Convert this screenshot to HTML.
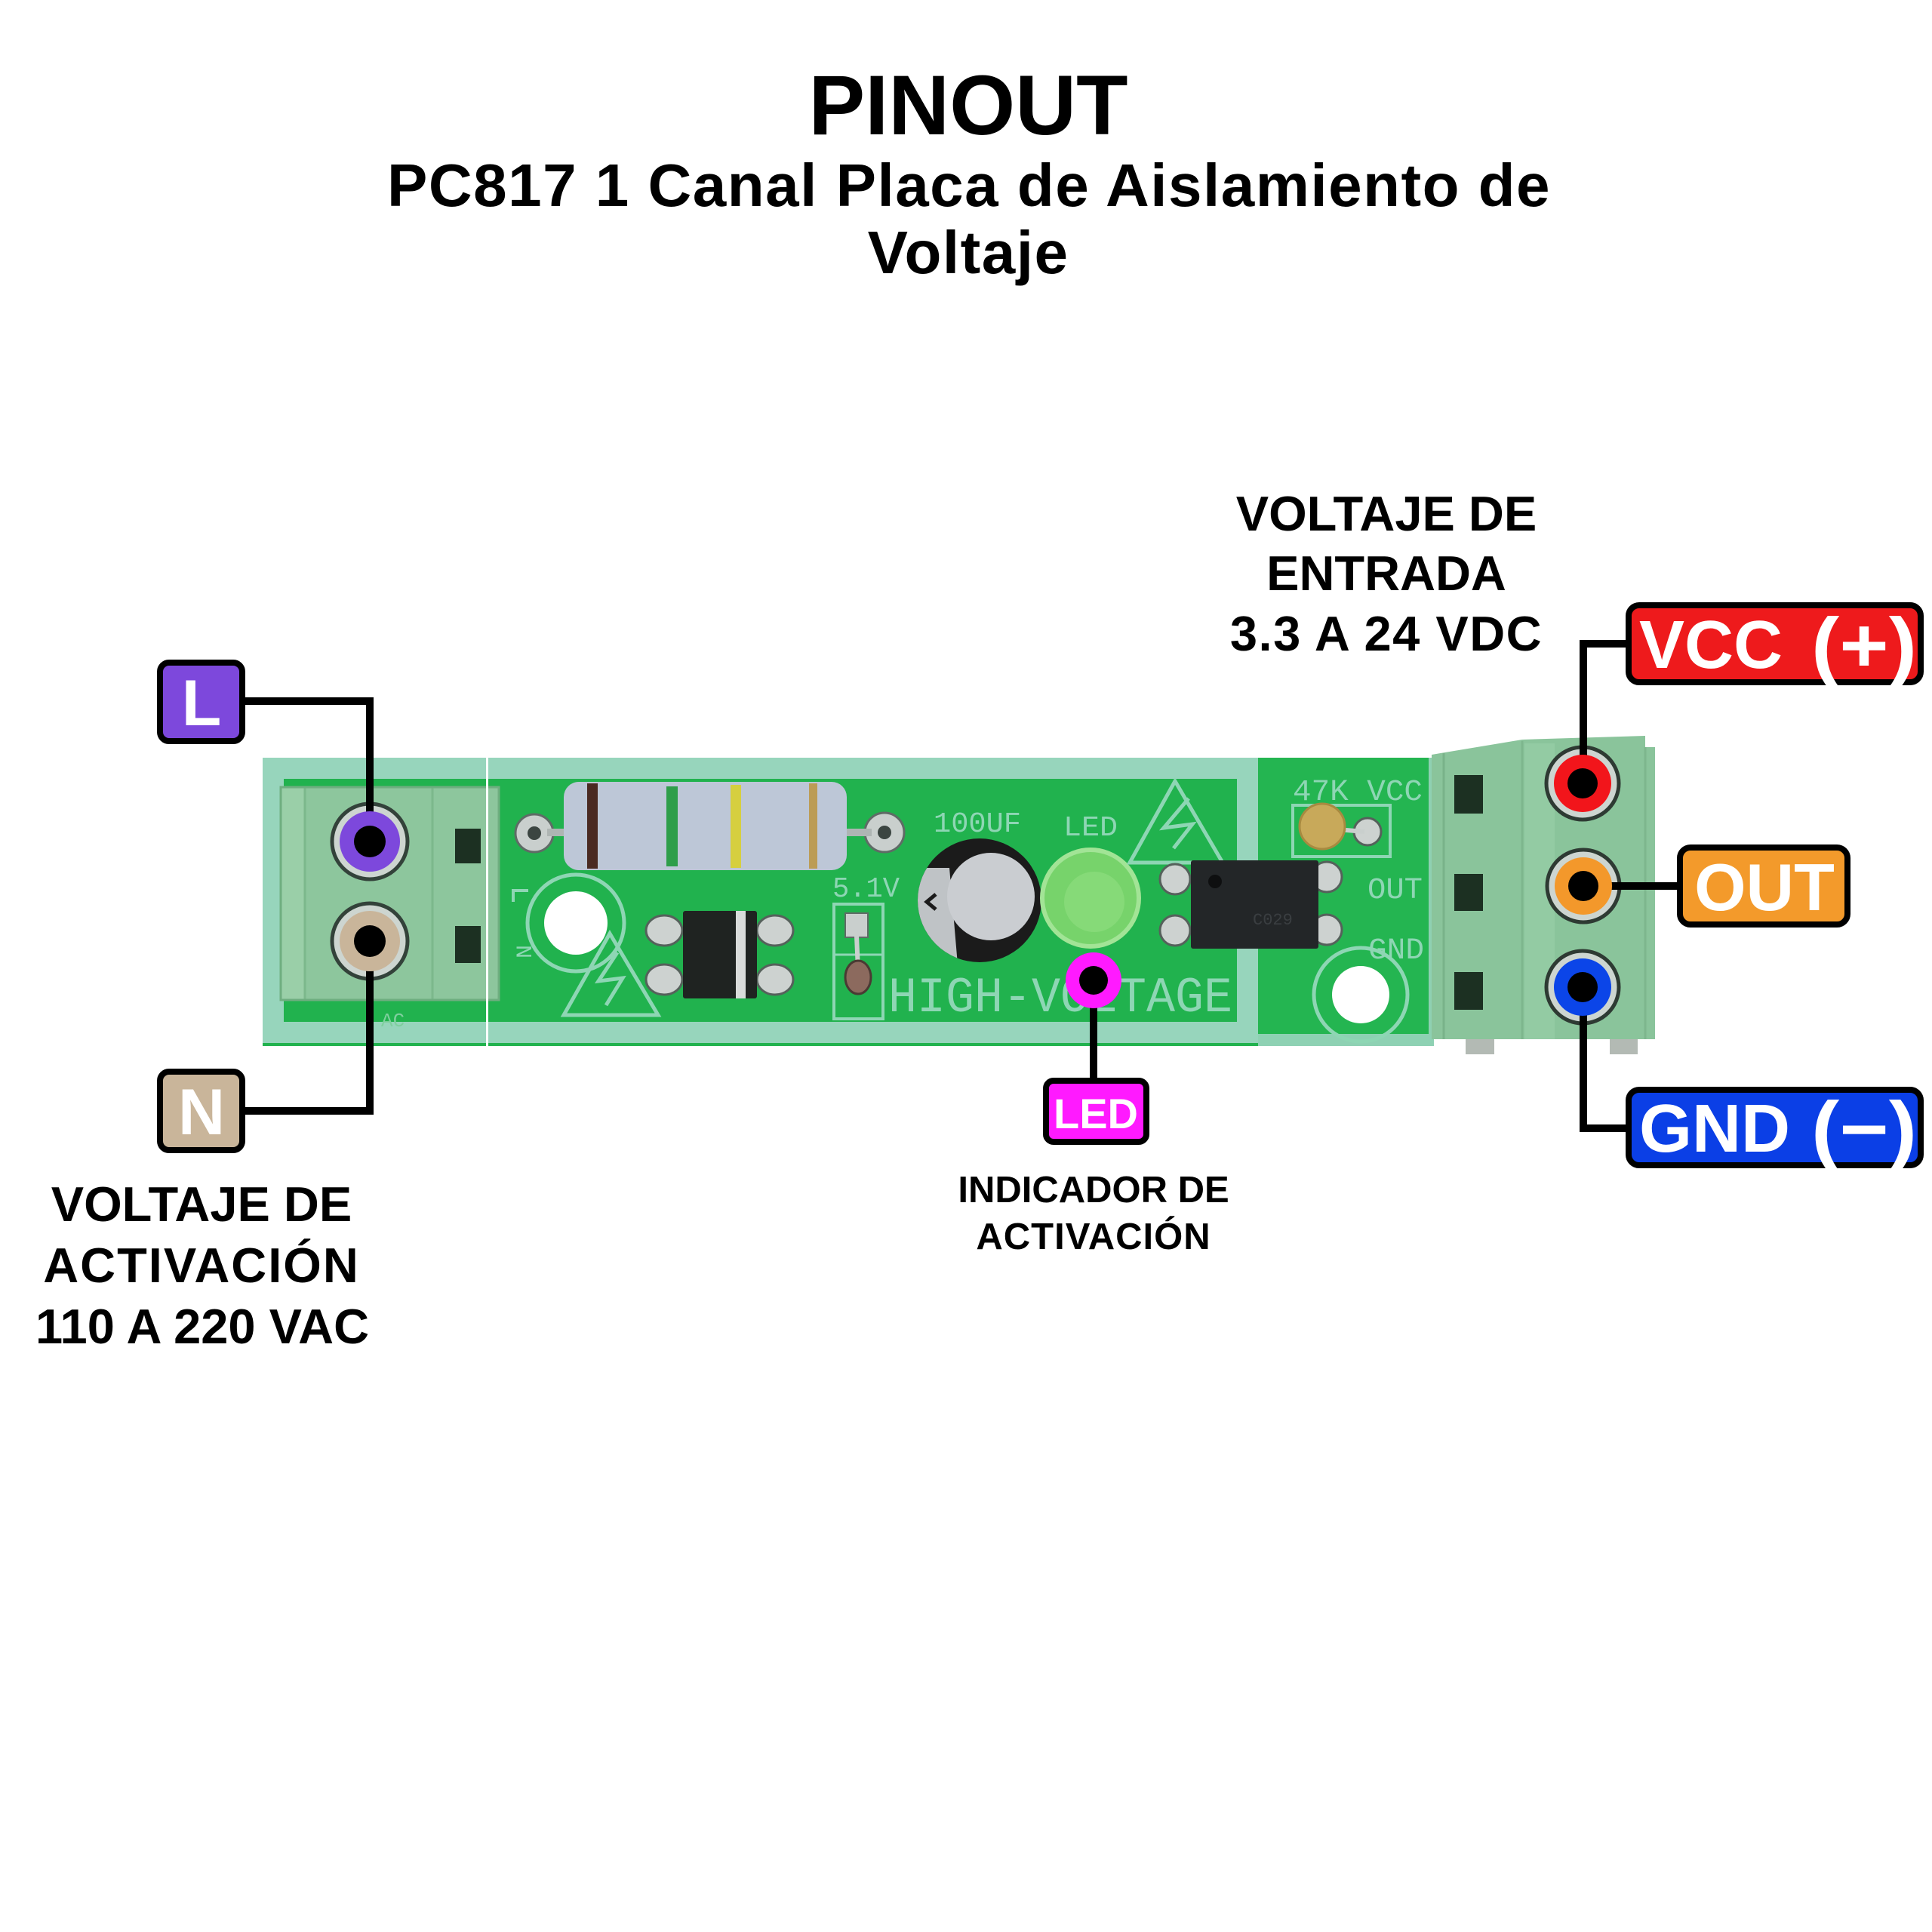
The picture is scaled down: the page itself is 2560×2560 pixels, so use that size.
<!DOCTYPE html>
<html>
<head>
<meta charset="utf-8">
<style>
  html,body{margin:0;padding:0;background:#fff;}
  svg{display:block;}
  .b{font-family:"Liberation Sans",Arial,sans-serif;font-weight:bold;}
  .m{font-family:"Liberation Mono",monospace;}
</style>
</head>
<body>
<svg width="2560" height="2560" viewBox="0 0 2560 2560" xmlns="http://www.w3.org/2000/svg">
  <rect width="2560" height="2560" fill="#ffffff"/>

  <!-- Titles -->
  <text class="b" x="1283" y="178" font-size="112" text-anchor="middle" fill="#000">PINOUT</text>
  <text class="b" x="1284" y="273" font-size="80" text-anchor="middle" letter-spacing="1.5" fill="#000">PC817 1 Canal Placa de Aislamiento de</text>
  <text class="b" x="1283" y="362" font-size="80" text-anchor="middle" letter-spacing="1.5" fill="#000">Voltaje</text>

  <!-- ===== PCB ===== -->
  <!-- board -->
  <rect x="348" y="1004" width="1552" height="382" fill="#21B24E"/>
  <!-- pale silkscreen frame -->
  <rect x="362" y="1018" width="1291" height="350" fill="none" stroke="#97D5BC" stroke-width="28"/>
  <rect x="1667" y="1004" width="233" height="382" fill="#24B551"/>
  <rect x="1893" y="1004" width="7" height="382" fill="#8FD0B2"/>
  <rect x="1667" y="1370" width="233" height="16" fill="#8ED1B3"/>

  <!-- left terminal block -->
  <rect x="372" y="1043" width="289" height="282" fill="#8DC69D"/>
  <rect x="372" y="1043" width="32" height="282" fill="#9ACFA8"/>
  <line x1="404" y1="1043" x2="404" y2="1325" stroke="#7CB88C" stroke-width="3"/>
  <line x1="573" y1="1043" x2="573" y2="1325" stroke="#7CB88C" stroke-width="3"/>
  <rect x="372" y="1043" width="289" height="282" fill="none" stroke="#6FAE80" stroke-width="3"/>
  <rect x="603" y="1098" width="34" height="46" fill="#1C3022"/>
  <rect x="603" y="1227" width="34" height="49" fill="#1C3022"/>
  <text class="m" x="505" y="1360" font-size="26" fill="#7FCF9E">AC</text>

  <!-- thin white line -->
  <rect x="644" y="1000" width="3" height="392" fill="#ffffff"/>

  <!-- resistor pads & body -->
  <circle cx="708" cy="1104" r="25" fill="#C9CFCD" stroke="#5F6B66" stroke-width="3"/>
  <circle cx="708" cy="1104" r="9" fill="#3B4541"/>
  <circle cx="1172" cy="1103" r="26" fill="#C9CFCD" stroke="#5F6B66" stroke-width="3"/>
  <circle cx="1172" cy="1103" r="9" fill="#3B4541"/>
  <rect x="725" y="1098" width="30" height="10" fill="#AEB5B3"/>
  <rect x="1115" y="1098" width="40" height="10" fill="#AEB5B3"/>
  <rect x="747" y="1036" width="375" height="117" rx="20" fill="#BDC7D7"/>
  <rect x="778" y="1038" width="14" height="113" fill="#4A2A22"/>
  <rect x="883" y="1042" width="15" height="106" fill="#2E9E4A"/>
  <rect x="968" y="1040" width="14" height="110" fill="#D6CF3F"/>
  <rect x="1072" y="1038" width="11" height="113" fill="#BC9C55"/>

  <!-- left mounting hole -->
  <circle cx="763" cy="1223" r="64" fill="none" stroke="#8ED6B4" stroke-width="5"/>
  <circle cx="763" cy="1223" r="42" fill="#ffffff"/>
  <!-- silkscreen L / N -->
  <path d="M680 1195 V1180 H700" fill="none" stroke="#8ED6B4" stroke-width="4"/>
  <text class="m" x="690" y="1284" font-size="30" fill="#8ED6B4" transform="rotate(-90 690 1270)">N</text>
  <!-- left warning triangle -->
  <polygon points="808,1237 747,1345 872,1345" fill="none" stroke="#8ED6B4" stroke-width="5"/>
  <path d="M818 1262 L793 1300 L825 1296 L803 1332" fill="none" stroke="#8ED6B4" stroke-width="5"/>

  <!-- bridge rectifier -->
  <ellipse cx="880" cy="1233" rx="24" ry="20" fill="#CDD2D0" stroke="#55615B" stroke-width="3"/>
  <ellipse cx="880" cy="1298" rx="24" ry="20" fill="#CDD2D0" stroke="#55615B" stroke-width="3"/>
  <ellipse cx="1027" cy="1233" rx="24" ry="20" fill="#CDD2D0" stroke="#55615B" stroke-width="3"/>
  <ellipse cx="1027" cy="1298" rx="24" ry="20" fill="#CDD2D0" stroke="#55615B" stroke-width="3"/>
  <rect x="905" y="1207" width="98" height="116" rx="3" fill="#1F2321"/>
  <rect x="975" y="1207" width="13" height="116" fill="#D9DCDB"/>

  <!-- zener -->
  <text class="m" x="1103" y="1188" font-size="38" fill="#8ED6B4" textLength="89" lengthAdjust="spacingAndGlyphs">5.1V</text>
  <rect x="1105" y="1198" width="65" height="152" fill="none" stroke="#8ED6B4" stroke-width="4"/>
  <line x1="1107" y1="1265" x2="1168" y2="1265" stroke="#8ED6B4" stroke-width="3"/>
  <rect x="1120" y="1210" width="30" height="32" fill="#C9CFCD" stroke="#5F6B66" stroke-width="2"/>
  <line x1="1135" y1="1240" x2="1137" y2="1285" stroke="#C9CFCD" stroke-width="6"/>
  <ellipse cx="1137" cy="1295" rx="17" ry="22" fill="#8C6A5E" stroke="#4A3A33" stroke-width="3"/>

  <!-- capacitor -->
  <text class="m" x="1237" y="1102" font-size="38" fill="#8ED6B4" textLength="116" lengthAdjust="spacingAndGlyphs">100UF</text>
  <defs>
    <clipPath id="capclip"><circle cx="1298" cy="1193" r="82"/></clipPath>
  </defs>
  <circle cx="1298" cy="1193" r="82" fill="#1B1B1B"/>
  <g clip-path="url(#capclip)">
    <polygon points="1210,1150 1258,1150 1270,1290 1210,1290" fill="#BFC3C6"/>
  </g>
  <path d="M1240 1185 L1228 1195 L1240 1205" fill="none" stroke="#1B1B1B" stroke-width="5"/>
  <circle cx="1313" cy="1188" r="58" fill="#CACDD1"/>

  <!-- LED -->
  <text class="m" x="1409" y="1107" font-size="38" fill="#8ED6B4" textLength="72" lengthAdjust="spacingAndGlyphs">LED</text>
  <circle cx="1445" cy="1190" r="64" fill="#77D36B" stroke="#A2E496" stroke-width="6"/>
  <circle cx="1450" cy="1195" r="40" fill="#86DA78"/>

  <!-- right warning triangle -->
  <polygon points="1557,1035 1497,1143 1620,1143" fill="none" stroke="#8ED6B4" stroke-width="5"/>
  <path d="M1575 1058 L1542 1097 L1580 1092 L1555 1124" fill="none" stroke="#8ED6B4" stroke-width="5"/>

  <!-- optocoupler -->
  <circle cx="1557" cy="1165" r="20" fill="#CDD2D0" stroke="#55615B" stroke-width="3"/>
  <circle cx="1557" cy="1233" r="20" fill="#CDD2D0" stroke="#55615B" stroke-width="3"/>
  <circle cx="1758" cy="1162" r="20" fill="#CDD2D0" stroke="#55615B" stroke-width="3"/>
  <circle cx="1758" cy="1232" r="20" fill="#CDD2D0" stroke="#55615B" stroke-width="3"/>
  <rect x="1578" y="1140" width="169" height="117" rx="3" fill="#232628"/>
  <circle cx="1610" cy="1168" r="9" fill="#0E0F10"/>
  <text class="m" x="1660" y="1225" font-size="22" fill="#3A3E41">C029</text>

  <!-- trimmer -->
  <text class="m" x="1713" y="1060" font-size="40" fill="#8ED6B4" textLength="172" lengthAdjust="spacingAndGlyphs">47K VCC</text>
  <rect x="1713" y="1067" width="129" height="68" fill="none" stroke="#8ED6B4" stroke-width="4"/>
  <circle cx="1812" cy="1102" r="18" fill="#CDD2D0" stroke="#55615B" stroke-width="3"/>
  <line x1="1760" y1="1098" x2="1808" y2="1102" stroke="#C9CFCD" stroke-width="6"/>
  <circle cx="1752" cy="1095" r="30" fill="#C8A95A" stroke="#A88A40" stroke-width="3"/>
  <text class="m" x="1812" y="1190" font-size="40" fill="#8ED6B4" textLength="73" lengthAdjust="spacingAndGlyphs">OUT</text>
  <text class="m" x="1813" y="1270" font-size="40" fill="#8ED6B4" textLength="74" lengthAdjust="spacingAndGlyphs">GND</text>
  <!-- right hole -->
  <circle cx="1803" cy="1318" r="62" fill="none" stroke="#8ED6B4" stroke-width="5"/>
  <circle cx="1803" cy="1318" r="38" fill="#ffffff"/>

  <!-- HIGH-VOLTAGE -->
  <text class="m" x="1177" y="1340" font-size="66" fill="#8ED6B4" textLength="456" lengthAdjust="spacingAndGlyphs">HIGH-VOLTAGE</text>

  <!-- right terminal block -->
  <rect x="1942" y="1372" width="38" height="25" fill="#B3BAB4"/>
  <rect x="2133" y="1372" width="37" height="25" fill="#B3BAB4"/>
  <polygon points="1897,1000 2017,980 2180,975 2180,990 2193,990 2193,1377 1897,1377" fill="#8AC49B"/>
  <rect x="2020" y="985" width="40" height="392" fill="#93CBA3"/>
  <line x1="1913" y1="998" x2="1913" y2="1377" stroke="#79B38A" stroke-width="3"/>
  <line x1="2017" y1="982" x2="2017" y2="1377" stroke="#7DB68D" stroke-width="3"/>
  <line x1="2180" y1="990" x2="2180" y2="1377" stroke="#7DB68D" stroke-width="3"/>
  <rect x="1927" y="1027" width="38" height="51" fill="#1C3022"/>
  <rect x="1927" y="1158" width="38" height="49" fill="#1C3022"/>
  <rect x="1927" y="1288" width="38" height="50" fill="#1C3022"/>

  <!-- screw rings -->
  <circle cx="490" cy="1115" r="50" fill="#CDD5D0" stroke="#33423A" stroke-width="5"/>
  <circle cx="490" cy="1247" r="50" fill="#CDD5D0" stroke="#33423A" stroke-width="5"/>
  <circle cx="2097" cy="1038" r="48" fill="#CDD5D0" stroke="#2E3A33" stroke-width="5"/>
  <circle cx="2098" cy="1174" r="48" fill="#CDD5D0" stroke="#2E3A33" stroke-width="5"/>
  <circle cx="2097" cy="1308" r="48" fill="#CDD5D0" stroke="#2E3A33" stroke-width="5"/>

  <!-- ===== connectors ===== -->
  <g fill="none" stroke="#000" stroke-width="10" stroke-linejoin="miter">
    <path d="M322 929 H490 V1115"/>
    <path d="M322 1472 H490 V1247"/>
    <path d="M2160 853 H2098 V1038"/>
    <path d="M2098 1174 H2226"/>
    <path d="M2098 1308 V1495 H2160"/>
    <path d="M1449 1299 V1432"/>
  </g>

  <!-- pin dots -->
  <circle cx="490" cy="1115" r="40" fill="#7D48DC"/>
  <circle cx="490" cy="1115" r="21" fill="#000"/>
  <circle cx="490" cy="1247" r="40" fill="#C9B59A"/>
  <circle cx="490" cy="1247" r="21" fill="#000"/>
  <circle cx="2097" cy="1038" r="38" fill="#F2151B"/>
  <circle cx="2097" cy="1038" r="20" fill="#000"/>
  <circle cx="2098" cy="1174" r="38" fill="#F3982B"/>
  <circle cx="2098" cy="1174" r="20" fill="#000"/>
  <circle cx="2097" cy="1308" r="38" fill="#0B45E8"/>
  <circle cx="2097" cy="1308" r="20" fill="#000"/>
  <circle cx="1449" cy="1299" r="37" fill="#FF1AFF"/>
  <circle cx="1449" cy="1299" r="19" fill="#000"/>

  <!-- ===== label boxes ===== -->
  <rect x="212" y="878" width="109" height="104" rx="12" fill="#7D48DC" stroke="#000" stroke-width="8"/>
  <text class="b" x="267" y="961" font-size="86" text-anchor="middle" fill="#fff">L</text>

  <rect x="212" y="1420" width="109" height="104" rx="12" fill="#C9B59A" stroke="#000" stroke-width="8"/>
  <text class="b" x="267" y="1503" font-size="86" text-anchor="middle" fill="#fff">N</text>

  <rect x="2158" y="802" width="387" height="102" rx="14" fill="#EE1A1C" stroke="#000" stroke-width="8"/>
  <text class="b" x="2172" y="885" font-size="90" fill="#fff">VCC</text>
  <text class="b" x="2400" y="890" font-size="102" fill="#fff" textLength="140" lengthAdjust="spacingAndGlyphs">(+)</text>

  <rect x="2226" y="1123" width="222" height="102" rx="14" fill="#F39A2B" stroke="#000" stroke-width="8"/>
  <text class="b" x="2338" y="1206" font-size="88" text-anchor="middle" fill="#fff">OUT</text>

  <rect x="2158" y="1444" width="387" height="100" rx="14" fill="#0B3FE6" stroke="#000" stroke-width="8"/>
  <text class="b" x="2172" y="1526" font-size="90" fill="#fff">GND</text>
  <text class="b" x="2400" y="1531" font-size="102" fill="#fff" textLength="140" lengthAdjust="spacingAndGlyphs">(−)</text>

  <rect x="1386" y="1432" width="133" height="81" rx="10" fill="#FF1AFF" stroke="#000" stroke-width="8"/>
  <text class="b" x="1452" y="1495" font-size="56" text-anchor="middle" fill="#fff">LED</text>

  <!-- ===== description texts ===== -->
  <g class="b" font-size="65" text-anchor="middle" fill="#000">
    <text x="1837" y="703">VOLTAJE DE</text>
    <text x="1837" y="782">ENTRADA</text>
    <text x="1837" y="862" letter-spacing="1.5">3.3 A 24 VDC</text>
  </g>
  <g class="b" font-size="65" text-anchor="middle" fill="#000">
    <text x="267" y="1618">VOLTAJE DE</text>
    <text x="267" y="1699" letter-spacing="2">ACTIVACIÓN</text>
    <text x="268" y="1780">110 A 220 VAC</text>
  </g>
  <g class="b" font-size="49" text-anchor="middle" fill="#000">
    <text x="1449" y="1593">INDICADOR DE</text>
    <text x="1449" y="1655" letter-spacing="1">ACTIVACIÓN</text>
  </g>
</svg>
</body>
</html>
